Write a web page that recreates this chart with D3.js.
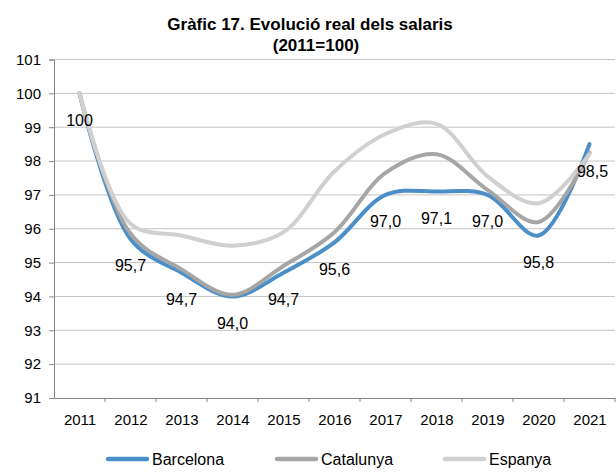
<!DOCTYPE html>
<html>
<head>
<meta charset="utf-8">
<script src="https://cdn.jsdelivr.net/npm/d3@7"></script>
<style>
  body { margin: 0; background: #fff; }
  text { font-family: "Liberation Sans", Arial, sans-serif; }
</style>
</head>
<body>
<div id="chart"></div>
<script>
var years = ["2011", "2012", "2013", "2014", "2015", "2016", "2017", "2018", "2019", "2020", "2021"]
var barcelona = [100, 95.7, 94.7, 94.0, 94.7, 95.6, 97.0, 97.1, 97.0, 95.8, 98.5]
var catalunya = [100, 95.85, 94.8, 94.05, 94.9, 95.9, 97.65, 98.2, 97.15, 96.2, 98.25]
var espanya = [100, 96.15, 95.8, 95.5, 95.9, 97.7, 98.8, 99.1, 97.55, 96.75, 98.2]
var yTicks = [91, 92, 93, 94, 95, 96, 97, 98, 99, 100, 101]
var seriesNames = ["Barcelona", "Catalunya", "Espanya"]
var colors = ["#4a8fc7", "#a6a6a6", "#d0d0d0"]

var width = 616,
  height = 472
var plotLeft = 54, plotRight = 615, plotTop = 59.5, plotBottom = 398

var svg = d3
  .select("#chart")
  .append("svg")
  .attr("width", width)
  .attr("height", height)

var x = d3.scalePoint().domain(years).range([plotLeft, plotRight]).padding(0.5)
var xBand = d3.scaleBand().domain(years).range([plotLeft, plotRight])
var y = d3.scaleLinear().domain([91, 101]).range([plotBottom, plotTop])

// title
svg.append("text")
  .attr("x", 310).attr("y", 30)
  .attr("text-anchor", "middle")
  .style("font-size", "17px").style("font-weight", "bold")
  .text("Gràfic 17. Evolució real dels salaris")
svg.append("text")
  .attr("x", 316).attr("y", 51)
  .attr("text-anchor", "middle")
  .style("font-size", "17px").style("font-weight", "bold")
  .text("(2011=100)")

// gridlines
svg.append("g")
  .selectAll("line")
  .data(yTicks.filter(function (d) { return d > 91 }))
  .enter()
  .append("line")
  .attr("x1", plotLeft).attr("x2", plotRight)
  .attr("y1", function (d) { return y(d) }).attr("y2", function (d) { return y(d) })
  .attr("stroke", "#c4c4c4")
  .attr("stroke-width", 1)

// y axis
var yAxis = svg.append("g")
  .attr("transform", "translate(" + plotLeft + ",0)")
  .call(d3.axisLeft(y).tickValues(yTicks).tickSize(5).tickPadding(8).tickFormat(d3.format("d")))
yAxis.select(".domain").attr("stroke", "#868686")
yAxis.selectAll(".tick line").attr("stroke", "#868686")
yAxis.selectAll("text").style("font-size", "15px").attr("fill", "#000")
  .style("font-family", "'Liberation Sans', Arial, sans-serif")

// x axis
var xAxis = svg.append("g")
  .attr("transform", "translate(0," + plotBottom + ")")
  .call(d3.axisBottom(x).tickSize(0).tickPadding(16))
xAxis.select(".domain").attr("stroke", "#868686")
xAxis.selectAll("text").style("font-size", "15px").attr("fill", "#000")
  .style("font-family", "'Liberation Sans', Arial, sans-serif")
xAxis.selectAll(".edge")
  .data(years.slice(1).concat(["end"]))
  .enter()
  .append("line")
  .attr("x1", function (d) { return d == "end" ? plotRight : xBand(d) })
  .attr("x2", function (d) { return d == "end" ? plotRight : xBand(d) })
  .attr("y1", 0).attr("y2", 4)
  .attr("stroke", "#868686")

// lines
var line = d3.line()
  .x(function (d, i) { return x(years[i]) })
  .y(function (d) { return y(d) })
  .curve(d3.curveCatmullRom.alpha(0.5))

var series = [barcelona, catalunya, espanya]
svg.append("g")
  .selectAll("path")
  .data(series)
  .enter()
  .append("path")
  .attr("d", line)
  .attr("fill", "none")
  .attr("stroke", function (d, i) { return colors[i] })
  .attr("stroke-width", 4)
  .attr("stroke-linecap", "round")
  .attr("stroke-linejoin", "round")

// data labels (Barcelona)
var fmt = function (v) { return v == 100 ? "100" : d3.format(".1f")(v).replace(".", ",") }
svg.append("g")
  .selectAll("text")
  .data(barcelona)
  .enter()
  .append("text")
  .attr("x", function (d, i) { return x(years[i]) + (i == 10 ? 3 : 0) })
  .attr("y", function (d) { return y(d) + 32.5 })
  .attr("text-anchor", "middle")
  .style("font-size", "16px")
  .text(fmt)

// legend
var legendX = [106, 275, 443]
var legend = svg.append("g")
  .selectAll("g")
  .data(seriesNames)
  .enter()
  .append("g")
  .attr("transform", function (d, i) { return "translate(" + legendX[i] + ",459)" })
legend.append("line")
  .attr("x1", 2).attr("x2", 41)
  .attr("stroke", function (d, i) { return colors[i] })
  .attr("stroke-width", 4.5)
  .attr("stroke-linecap", "round")
legend.append("text")
  .attr("x", 46).attr("y", 6)
  .style("font-size", "16px")
  .text(function (d) { return d })
</script>
</body>
</html>
